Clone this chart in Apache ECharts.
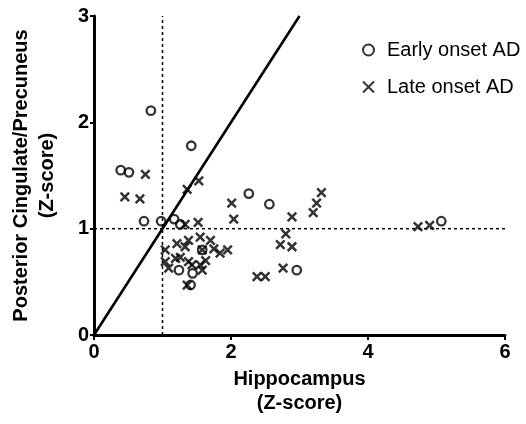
<!DOCTYPE html>
<html>
<head>
<meta charset="utf-8">
<script src="https://cdn.jsdelivr.net/npm/echarts@6/dist/echarts.min.js"></script>
<style>html,body{margin:0;padding:0;background:#fff;}#c{width:526px;height:424px;}</style>
</head>
<body>
<div id="c"></div>
<script>
var xTicks = [0, 2, 4, 6];
var yTicks = [0, 1, 2, 3];
var earlyOnset = [
  [0.83, 2.11], [1.42, 1.78], [0.39, 1.55], [0.51, 1.53], [0.73, 1.07],
  [0.98, 1.07], [1.17, 1.09], [1.26, 1.04], [2.26, 1.33], [2.56, 1.23],
  [1.24, 0.61], [1.41, 0.47], [1.44, 0.58], [1.58, 0.80], [2.96, 0.61],
  [5.07, 1.07]
];
var lateOnset = [
  [0.75, 1.51], [0.45, 1.30], [0.67, 1.28], [1.36, 1.37], [1.53, 1.45],
  [1.33, 1.04], [1.52, 1.06], [2.01, 1.24], [2.04, 1.09], [2.89, 1.11],
  [2.80, 0.95], [2.72, 0.85], [2.89, 0.83], [2.76, 0.63], [2.38, 0.55],
  [2.50, 0.55], [3.20, 1.15], [3.25, 1.24], [3.32, 1.34], [4.73, 1.02],
  [4.90, 1.03],
  [1.04, 0.80], [1.04, 0.69], [1.09, 0.63], [1.21, 0.86], [1.38, 0.89],
  [1.33, 0.83], [1.55, 0.92], [1.70, 0.89], [1.75, 0.81], [1.84, 0.77],
  [1.95, 0.80], [1.26, 0.73], [1.19, 0.72], [1.38, 0.69], [1.43, 0.66],
  [1.55, 0.66], [1.58, 0.61], [1.63, 0.70], [1.36, 0.47], [1.58, 0.80]
];
var identityLine = [[0, 0], [3, 3]];
var xCutLine = [[1, 0], [1, 3]];
var yCutLine = [[0, 1], [6, 1]];

var crossPath = 'path://M0,0L10,10M10,0L0,10';
var font = '"Liberation Sans", Arial, sans-serif';

var chart = echarts.init(document.getElementById('c'));
chart.setOption({
  animation: false,
  backgroundColor: '#fff',
  grid: {left: 91, top: 16, right: 21, bottom: 89, containLabel: false},
  legend: {
    orient: 'vertical',
    left: 357, top: 35,
    itemGap: 17,
    itemWidth: 11, itemHeight: 11,
    textStyle: {fontFamily: font, fontSize: 20, color: '#000', padding: [0, 0, 0, 8]},
    data: [
      {name: 'Early onset AD', icon: 'circle'},
      {name: 'Late onset AD', icon: crossPath}
    ]
  },
  xAxis: {
    type: 'value', min: 0, max: 6, interval: 2,
    name: 'Hippocampus\n(Z-score)',
    nameLocation: 'middle', nameGap: 32,
    nameTextStyle: {fontFamily: font, fontSize: 20, fontWeight: 'bold', color: '#000', lineHeight: 24},
    axisLine: {lineStyle: {color: '#000', width: 3}},
    axisTick: {show: true, length: 5, lineStyle: {color: '#000', width: 2}},
    axisLabel: {fontFamily: font, fontSize: 20, fontWeight: 'bold', color: '#000', margin: 7},
    splitLine: {show: false}
  },
  yAxis: {
    type: 'value', min: 0, max: 3, interval: 1,
    name: 'Posterior Cingulate/Precuneus\n(Z-score)',
    nameLocation: 'middle', nameGap: 34,
    nameTextStyle: {fontFamily: font, fontSize: 20, fontWeight: 'bold', color: '#000', lineHeight: 26},
    axisLine: {lineStyle: {color: '#000', width: 3}},
    axisTick: {show: true, length: 4, lineStyle: {color: '#000', width: 2}},
    axisLabel: {fontFamily: font, fontSize: 20, fontWeight: 'bold', color: '#000', margin: 5},
    splitLine: {show: false}
  },
  series: [
    {type: 'line', data: identityLine, symbol: 'none', silent: true,
     lineStyle: {color: '#000', width: 2.6}, z: 1},
    {type: 'line', data: xCutLine, symbol: 'none', silent: true,
     lineStyle: {color: '#000', width: 1.5, type: [3, 3]}, z: 1},
    {type: 'line', data: yCutLine, symbol: 'none', silent: true,
     lineStyle: {color: '#000', width: 1.5, type: [3, 3]}, z: 1},
    {name: 'Early onset AD', type: 'scatter', data: earlyOnset, symbol: 'circle', symbolSize: 8.5,
     itemStyle: {color: 'rgba(255,255,255,0)', borderColor: '#000', borderWidth: 2.3}, z: 3},
    {name: 'Late onset AD', type: 'scatter', data: lateOnset, symbol: crossPath, symbolSize: 8.5,
     itemStyle: {color: 'rgba(255,255,255,0)', borderColor: '#000', borderWidth: 2.5}, z: 3}
  ]
});
</script>
</body>
</html>
